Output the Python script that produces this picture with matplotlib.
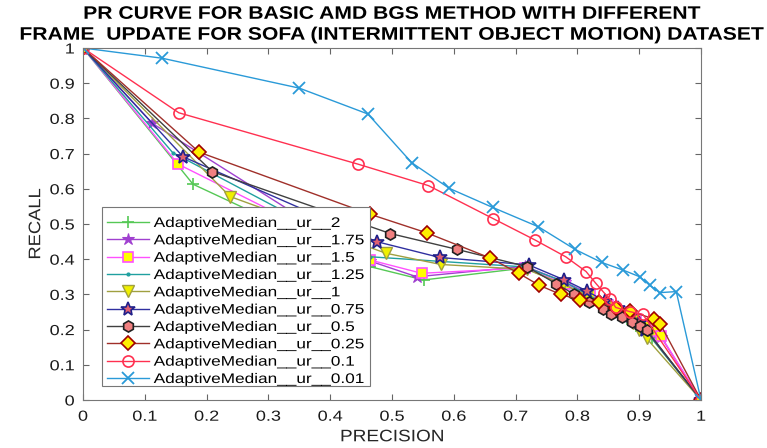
import matplotlib
matplotlib.use("Agg")
import matplotlib.pyplot as plt
from matplotlib.patheffects import AbstractPathEffect
from matplotlib.transforms import Affine2D
from matplotlib.patches import Rectangle

plt.rcParams['font.family'] = ['Liberation Sans', 'DejaVu Sans']

labels = ["AdaptiveMedian__ur__2", "AdaptiveMedian__ur__1.75", "AdaptiveMedian__ur__1.5",
          "AdaptiveMedian__ur__1.25", "AdaptiveMedian__ur__1", "AdaptiveMedian__ur__0.75",
          "AdaptiveMedian__ur__0.5", "AdaptiveMedian__ur__0.25", "AdaptiveMedian__ur__0.1",
          "AdaptiveMedian__ur__0.01"]

p_2 = [0, 0.178, 0.464, 0.551, 0.715, 0.775, 0.81, 0.84, 0.86, 0.88, 0.895, 0.91, 0.92, 1]
r_2 = [1, 0.613, 0.379, 0.341, 0.375, 0.33, 0.30, 0.27, 0.25, 0.23, 0.21, 0.19, 0.175, 0]

p_175 = [0, 0.112, 0.464, 0.540, 0.715, 0.78, 0.815, 0.845, 0.87, 0.89, 0.905, 0.92, 0.935, 1]
r_175 = [1, 0.786, 0.395, 0.350, 0.38, 0.335, 0.305, 0.275, 0.25, 0.23, 0.21, 0.19, 0.18, 0]

p_15 = [0, 0.154, 0.464, 0.548, 0.715, 0.78, 0.82, 0.85, 0.875, 0.895, 0.91, 0.925, 0.935, 1]
r_15 = [1, 0.670, 0.398, 0.360, 0.375, 0.33, 0.30, 0.27, 0.25, 0.23, 0.21, 0.195, 0.182, 0]

p_125 = [0, 0.145, 0.464, 0.715, 0.78, 0.815, 0.845, 0.87, 0.89, 0.905, 0.915, 1]
r_125 = [1, 0.703, 0.407, 0.378, 0.335, 0.30, 0.275, 0.25, 0.23, 0.21, 0.19, 0]

p_1 = [0, 0.238, 0.490, 0.579, 0.718, 0.776, 0.815, 0.845, 0.87, 0.89, 0.90, 0.912, 1]
r_1 = [1, 0.578, 0.417, 0.385, 0.371, 0.330, 0.298, 0.27, 0.245, 0.22, 0.20, 0.175, 0]

p_075 = [0, 0.162, 0.475, 0.577, 0.721, 0.779, 0.815, 0.845, 0.865, 0.885, 0.90, 0.91, 1]
r_075 = [1, 0.691, 0.450, 0.405, 0.384, 0.341, 0.310, 0.28, 0.26, 0.24, 0.22, 0.20, 0]

p_05 = [0, 0.209, 0.497, 0.605, 0.718, 0.766, 0.795, 0.819, 0.841, 0.855, 0.872, 0.888, 0.901, 0.912, 1]
r_05 = [1, 0.649, 0.473, 0.428, 0.379, 0.330, 0.30, 0.279, 0.258, 0.243, 0.235, 0.222, 0.210, 0.199, 0]

p_025 = [0, 0.188, 0.464, 0.556, 0.658, 0.705, 0.738, 0.773, 0.804, 0.835, 0.862, 0.885, 0.924, 0.934, 1]
r_025 = [1, 0.704, 0.528, 0.475, 0.404, 0.360, 0.326, 0.300, 0.284, 0.277, 0.261, 0.253, 0.230, 0.216, 0]

p_01 = [0, 0.155, 0.445, 0.559, 0.664, 0.731, 0.781, 0.814, 0.830, 0.843, 0.853, 0.862, 0.885, 0.906, 1]
r_01 = [1, 0.816, 0.670, 0.609, 0.515, 0.455, 0.407, 0.365, 0.331, 0.305, 0.286, 0.263, 0.251, 0.243, 0]

p_001 = [0, 0.128, 0.35, 0.461, 0.532, 0.593, 0.663, 0.737, 0.796, 0.839, 0.874, 0.901, 0.917, 0.933, 0.960, 1]
r_001 = [1, 0.971, 0.886, 0.8125, 0.674, 0.601, 0.547, 0.492, 0.428, 0.391, 0.369, 0.350, 0.326, 0.305, 0.308, 0]

tick_vals = [0, 0.1, 0.2, 0.3, 0.4, 0.5, 0.6, 0.7, 0.8, 0.9, 1]
tick_labels = ['0', '0.1', '0.2', '0.3', '0.4', '0.5', '0.6', '0.7', '0.8', '0.9', '1']

xs = [p_2, p_175, p_15, p_125, p_1, p_075, p_05, p_025, p_01, p_001]
ys = [r_2, r_175, r_15, r_125, r_1, r_075, r_05, r_025, r_01, r_001]

styles = [
    dict(color='#55c855', marker='+', ms=9, mew=1.2, mfc='none', mec='#55c855'),
    dict(color='#a040d0', marker='*', ms=9, mew=0.8, mfc='#a040d0', mec='#a040d0'),
    dict(color='#ff50ff', marker='s', ms=7, mew=1.2, mfc='#ffff00', mec='#ff50ff'),
    dict(color='#20a0a0', marker='.', ms=4, mew=1, mfc='#20a0a0', mec='#20a0a0'),
    dict(color='#a0a040', marker='v', ms=9, mew=1, mfc='#f0f000', mec='#a0a040'),
    dict(color='#3030a0', marker='*', ms=10, mew=1.2, mfc='#e06070', mec='#20208a'),
    dict(color='#404040', marker='h', ms=8, mew=1.2, mfc='#f08080', mec='#202020'),
    dict(color='#a0302a', marker='D', ms=7, mew=1.2, mfc='#ffee00', mec='#a00000'),
    dict(color='#ff3050', marker='o', ms=8, mew=1.2, mfc='none', mec='#ff3050'),
    dict(color='#2a9ad8', marker='x', ms=8, mew=1.3, mfc='none', mec='#2a9ad8'),
]


class StretchX(AbstractPathEffect):
    """Stretch text glyphs horizontally (the reference image is widened)."""
    def __init__(self, sx, anchor='left'):
        super().__init__()
        self.sx = sx
        self.anchor = anchor

    def draw_path(self, renderer, gc, tpath, affine, rgbFace=None):
        v = tpath.vertices
        cx = 0.0
        if len(v):
            if self.anchor == 'center':
                cx = (v[:, 0].min() + v[:, 0].max()) / 2
            elif self.anchor == 'right':
                cx = v[:, 0].max()
        t = Affine2D().translate(-cx, 0).scale(self.sx, 1).translate(cx, 0)
        renderer.draw_path(gc, tpath, t + affine, rgbFace)


fig = plt.figure(figsize=(7.67, 4.48), dpi=100)
ax = fig.add_axes([83/767, 48/448, 618/767, 352/448])

for x, y, lab, st in zip(xs, ys, labels, styles):
    ax.plot(x, y, lw=1.0, label=lab, zorder=2, **st)

ax.set_xlim(0, 1)
ax.set_ylim(0, 1)
ax.set_xticks(tick_vals)
ax.set_yticks(tick_vals)
ax.set_xticklabels(tick_labels)
ax.set_yticklabels(tick_labels)
ax.tick_params(direction='in', top=True, right=True, length=4, width=0.8,
               color='#666666', labelsize=10.5, labelcolor='#1a1a1a')
ax.tick_params(axis='x', pad=7)
ax.tick_params(axis='y', pad=6)
for tk in ax.xaxis.get_major_ticks():
    tk.label1.set_path_effects([StretchX(1.24, 'center')])
for tk in ax.yaxis.get_major_ticks():
    tk.label1.set_path_effects([StretchX(1.24, 'right')])
for s in ax.spines.values():
    s.set_color('#777777')
    s.set_linewidth(0.8)

xl = ax.set_xlabel('PRECISION', fontsize=12, color='#262626', labelpad=4)
yl = ax.set_ylabel('RECALL', fontsize=12, color='#262626', labelpad=8)
xl.set_path_effects([StretchX(1.14, 'center')])
yl.set_path_effects([StretchX(1.1, 'center')])
tt = ax.set_title('PR CURVE FOR BASIC AMD BGS METHOD WITH DIFFERENT\nFRAME  UPDATE FOR SOFA (INTERMITTENT OBJECT MOTION) DATASET',
                  fontsize=13, fontweight='bold', pad=6, linespacing=1.3)
tt.set_path_effects([StretchX(1.17, 'center')])

# legend box (frame drawn separately because the legend text is horizontally stretched)
box_x0, box_x1 = 0.031, 0.464
box_y0, box_y1 = 0.040, 0.548
ax.add_patch(Rectangle((box_x0, box_y0), box_x1 - box_x0, box_y1 - box_y0,
                       transform=ax.transAxes, facecolor='white', edgecolor='#777777',
                       lw=0.8, zorder=4.5))

leg = ax.legend(loc='lower left', bbox_to_anchor=(box_x0, 0.026),
                fontsize=10, frameon=False,
                borderaxespad=0, handlelength=3.0, labelspacing=0.24, borderpad=0.35,
                handletextpad=0.36)
leg.set_zorder(5)
for t in leg.get_texts():
    t.set_path_effects([StretchX(1.24, 'left')])

fig.savefig('out.png', dpi=100)
